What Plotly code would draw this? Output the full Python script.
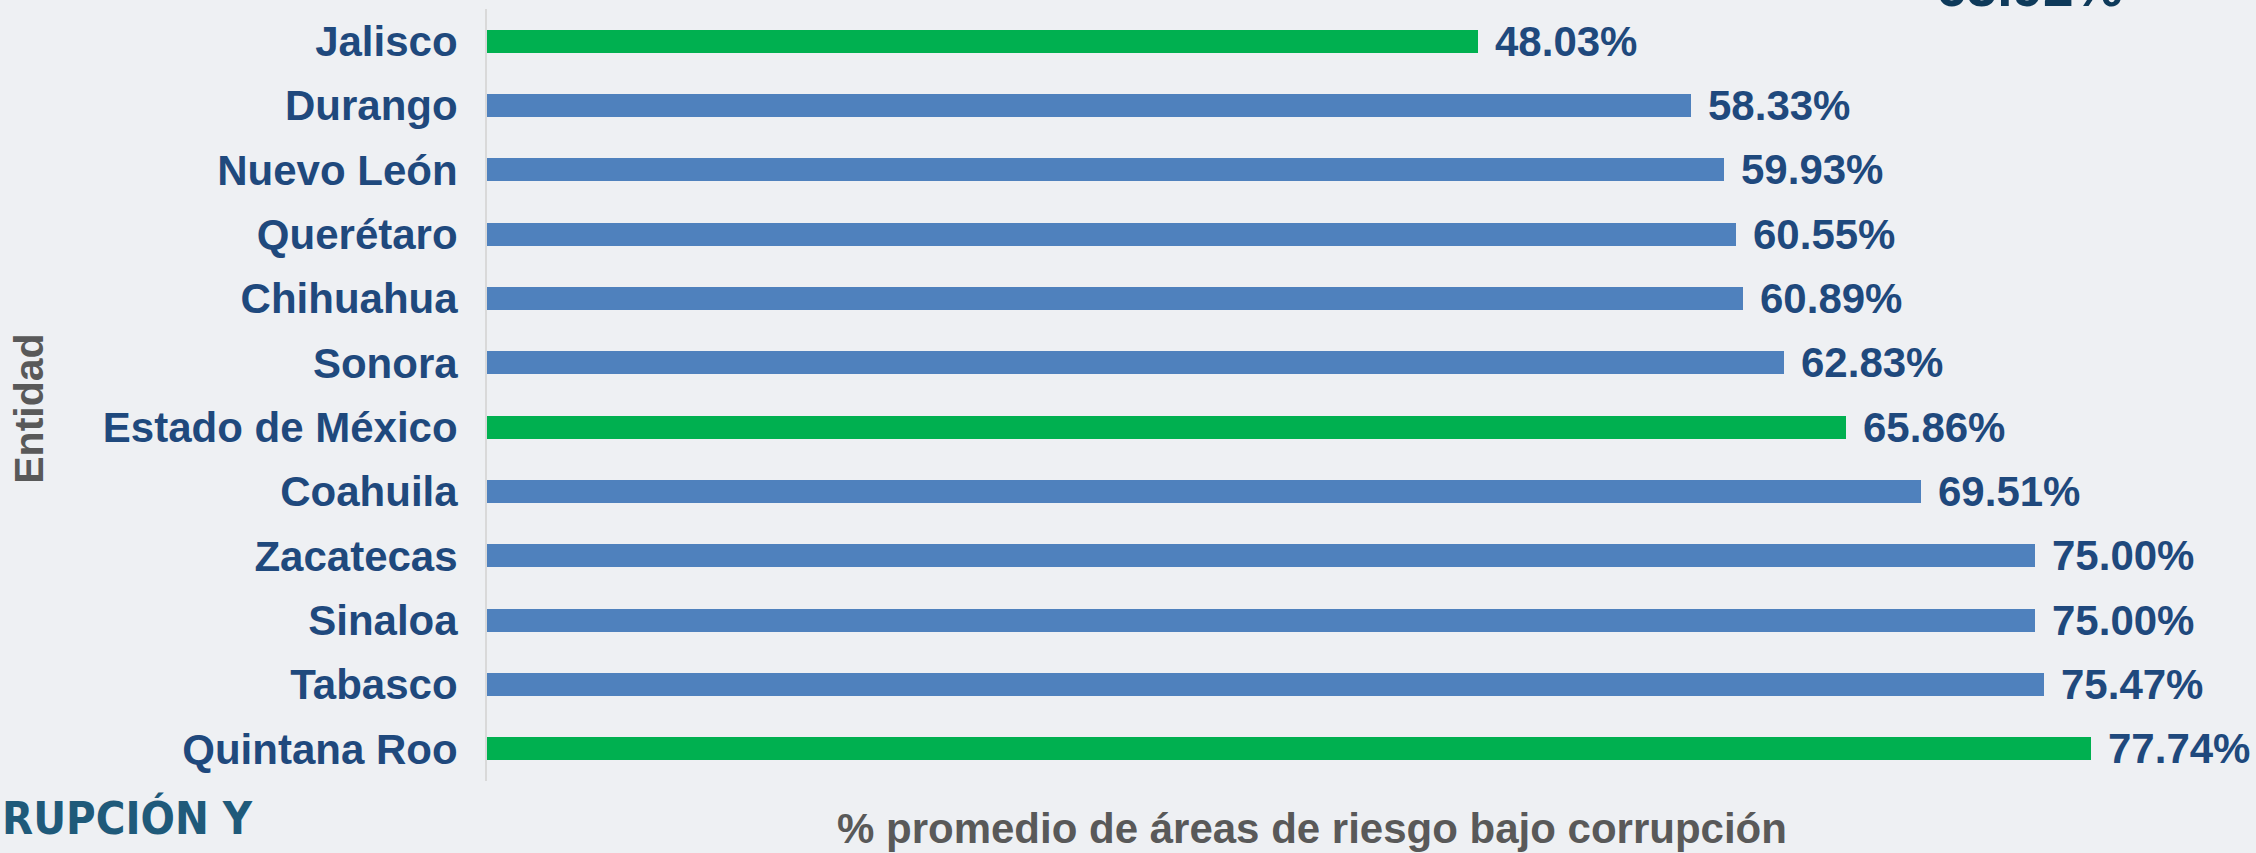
import plotly.graph_objects as go

entidades = ["Jalisco", "Durango", "Nuevo León", "Querétaro", "Chihuahua", "Sonora",
             "Estado de México", "Coahuila", "Zacatecas", "Sinaloa", "Tabasco", "Quintana Roo"]
valores = [48.03, 58.33, 59.93, 60.55, 60.89, 62.83, 65.86, 69.51, 75.00, 75.00, 75.47, 77.74]
destacados = ["Jalisco", "Estado de México", "Quintana Roo"]
etiquetas = [f"{v:.2f}%" for v in valores]

AZUL = "#4F81BD"
VERDE = "#00B050"
TEXTO = "#1F497D"
GRIS = "#595959"
colores = [VERDE if e in destacados else AZUL for e in entidades]

fig = go.Figure()
fig.add_trace(go.Bar(
    x=valores, y=entidades, orientation="h",
    marker=dict(color=colores, line=dict(width=0)),
    width=0.353, hoverinfo="x+y",
))

for v, e, t in zip(valores, entidades, etiquetas):
    fig.add_annotation(x=v, y=e, xref="x", yref="y", text=t, showarrow=False,
                       xanchor="left", yanchor="middle", xshift=15,
                       font=dict(family="Arial, Liberation Sans, sans-serif", size=42,
                                 color=TEXTO, weight="bold"))

fig.add_annotation(x=-0.2612, y=0.482, xref="paper", yref="paper", text="Entidad",
                   textangle=-90, showarrow=False, xanchor="center", yanchor="middle",
                   font=dict(family="Arial, Liberation Sans, sans-serif", size=41,
                             color=GRIS, weight="bold"))
fig.add_annotation(x=0.4703, y=-0.062, xref="paper", yref="paper",
                   text="% promedio de áreas de riesgo bajo corrupción",
                   showarrow=False, xanchor="center", yanchor="middle",
                   font=dict(family="Arial, Liberation Sans, sans-serif", size=42,
                             color=GRIS, weight="bold"))
fig.add_annotation(x=-0.2777, y=-0.049, xref="paper", yref="paper",
                   text="RUPCIÓN Y", showarrow=False, xanchor="left", yanchor="middle",
                   font=dict(family="Liberation Sans Narrow, DejaVu Sans Condensed, sans-serif",
                             size=45, color="#1F5A7A", weight="bold"))
fig.add_annotation(x=0.825, y=1.0, xref="paper", yref="paper",
                   text="65.92%", showarrow=False, xanchor="left", yanchor="bottom",
                   yshift=-11,
                   font=dict(family="Arial, Liberation Sans, sans-serif", size=55,
                             color="#0E3A5A", weight="bold"))

fig.update_layout(
    width=2256, height=853,
    margin=dict(l=487, r=15, t=9, b=72),
    paper_bgcolor="#EEF0F3", plot_bgcolor="rgba(0,0,0,0)",
    showlegend=False, bargap=0,
    xaxis=dict(range=[0, 85], showticklabels=False, showgrid=False, zeroline=False,
               showline=False, ticks=""),
    yaxis=dict(categoryorder="array", categoryarray=entidades[::-1],
               range=[-0.5, 11.5], showgrid=False, zeroline=False,
               showline=True, linecolor="#D9D9D9", linewidth=2,
               ticks="outside", ticklen=19, tickcolor="rgba(0,0,0,0)",
               tickfont=dict(family="Arial, Liberation Sans, sans-serif", size=42,
                             color=TEXTO, weight="bold")),
)

fig.write_html("out.html", config={"displayModeBar": False},
               post_script="document.body.style.margin='0';document.body.style.background='#EEF0F3';")
